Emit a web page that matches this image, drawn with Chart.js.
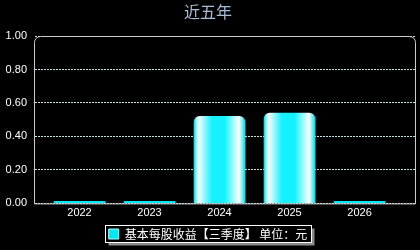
<!DOCTYPE html>
<html>
<head>
<meta charset="utf-8">
<script src="https://cdn.jsdelivr.net/npm/chart.js@4"></script>
<style>
  body { margin: 0; background: #000; }
  #wrap { width: 420px; height: 250px; }
</style>
</head>
<body>
<div id="wrap"><canvas id="c"></canvas></div>
<script>
const years = ['2022', '2023', '2024', '2025', '2026'];
const eps = [0, 0, 0.52, 0.54, 0];
const seriesName = '基本每股收益【三季度】 单位：元';
const titleText = '近五年';

const CYAN = '#00e8f4';

// rounded-top frame around the plot, like the original
const framePlugin = {
  id: 'frame',
  afterDatasetsDraw(chart) {
    const a = chart.chartArea, ctx = chart.ctx, r = 6;
    const l = a.left + 0.5, t = a.top + 0.5, rt = a.right - 0.5, b = a.bottom + 0.5;
    ctx.save();
    ctx.strokeStyle = '#cccccc';
    ctx.lineWidth = 1;
    ctx.beginPath();
    ctx.moveTo(l, b);
    ctx.lineTo(l, t + r);
    ctx.arcTo(l, t, l + r, t, r);
    ctx.lineTo(rt - r, t);
    ctx.arcTo(rt, t, rt, t + r, r);
    ctx.lineTo(rt, b);
    ctx.closePath();
    ctx.stroke();
    ctx.restore();
  }
};

// white box with grey shadow behind the legend
const legendBoxPlugin = {
  id: 'legendBox',
  beforeDraw(chart) {
    const hb = chart.legend && chart.legend.legendHitBoxes[0];
    if (!hb) return;
    const ctx = chart.ctx;
    const x = Math.round(hb.left) - 3.5, y = Math.round(hb.top) - 2.5;
    const w = Math.round(hb.width) + 7, h = Math.round(hb.height) + 5;
    ctx.save();
    ctx.fillStyle = '#8a8a8a';
    ctx.fillRect(x + 3, y + 3, w, h);
    ctx.fillStyle = '#000';
    ctx.fillRect(x, y, w, h);
    ctx.strokeStyle = '#ffffff';
    ctx.lineWidth = 1;
    ctx.strokeRect(x, y, w, h);
    ctx.restore();
  }
};

function barFill(ctx) {
  const chart = ctx.chart;
  if (!ctx.raw || !ctx.raw.y || !chart.scales.x) return CYAN;
  const cx = chart.scales.x.getPixelForValue(ctx.dataIndex);
  const g = chart.ctx.createLinearGradient(cx - 25.5, 0, cx + 25.5, 0);
  g.addColorStop(0, '#00e0ec');
  g.addColorStop(0.08, '#ffffff');
  g.addColorStop(0.35, '#14f2ff');
  g.addColorStop(0.6, '#14f2ff');
  g.addColorStop(0.88, '#ffffff');
  g.addColorStop(1, '#00e0ec');
  return g;
}

new Chart(document.getElementById('c'), {
  type: 'bar',
  data: {
    datasets: [{
      label: seriesName,
      data: eps.map((v, i) => ({ x: i, y: v })),
      backgroundColor: barFill,
      borderWidth: 0,
      borderRadius: { topLeft: 6, topRight: 6, bottomLeft: 0, bottomRight: 0 },
      borderSkipped: false,
      barThickness: 51,
      minBarLength: 2
    }]
  },
  options: {
    responsive: true,
    maintainAspectRatio: false,
    animation: false,
    layout: { padding: { left: 0, right: 4, top: 0, bottom: 0 } },
    scales: {
      x: {
        type: 'linear',
        offset: false,
        min: -0.65,
        max: 4.807,
        grid: { display: false, drawTicks: false },
        border: { display: false },
        afterBuildTicks(scale) { scale.ticks = years.map((y, i) => ({ value: i })); },
        afterFit(scale) { scale.height = 18.6; },
        ticks: {
          color: '#ffffff',
          padding: 3,
          maxRotation: 0,
          font: { family: 'Arial, "Liberation Sans"', size: 11 },
          callback: v => years[v]
        }
      },
      y: {
        min: 0,
        max: 1,
        grid: { color: '#c8e4e4', lineWidth: 1, drawTicks: false },
        border: { display: true, color: 'rgba(0,0,0,0)', dash: [2, 1] },
        afterFit(scale) { scale.width = 34; },
        ticks: {
          stepSize: 0.2,
          color: '#ffffff',
          padding: 7,
          font: { family: 'Arial, "Liberation Sans"', size: 11 },
          callback: v => v.toFixed(2)
        }
      }
    },
    plugins: {
      title: {
        display: true,
        text: titleText,
        color: '#a8bcd8',
        font: { family: '"Noto Sans CJK SC"', size: 16, weight: 'normal' },
        padding: { top: 2, bottom: 14.8 }
      },
      legend: {
        position: 'bottom',
        labels: {
          color: '#ffffff',
          boxWidth: 10,
          boxHeight: 10,
          padding: 6,
          font: { family: '"Noto Sans CJK SC"', size: 12 },
          generateLabels: chart => [{
            text: seriesName,
            fillStyle: CYAN,
            strokeStyle: '#a0ffff',
            lineWidth: 1,
            fontColor: '#ffffff',
            datasetIndex: 0
          }]
        }
      },
      tooltip: { enabled: false }
    }
  },
  plugins: [framePlugin, legendBoxPlugin]
});
</script>
</body>
</html>
